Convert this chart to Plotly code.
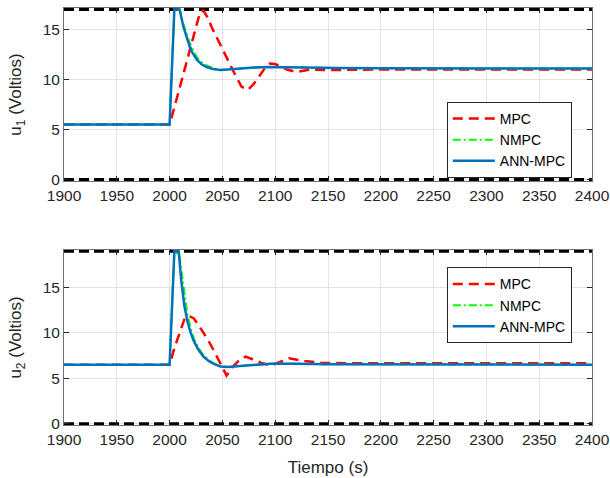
import plotly.graph_objects as go

# ---------------- data ----------------
x_ticks = [1900, 1950, 2000, 2050, 2100, 2150, 2200, 2250, 2300, 2350, 2400]
y_ticks = [0, 5, 10, 15]

limit_t = [1900, 2400]
u1_min = [0, 0]
u1_max = [17, 17]
u2_min = [0, 0]
u2_max = [19, 19]

# u1 - MPC
mpc1_t = [1900, 2000, 2005, 2010, 2015, 2020, 2025, 2029, 2032, 2036, 2040, 2045, 2049, 2053, 2057,
          2062, 2068, 2074, 2080, 2085, 2090, 2095, 2100, 2105, 2111, 2120, 2134, 2150, 2200, 2400]
mpc1_v = [5.5, 5.5, 7.4, 9.4, 11.3, 13.3, 15.3, 16.8, 16.9, 16.2, 15.2, 14.1, 13.2, 12.4, 11.6,
          10.5, 9.3, 8.95, 9.6, 10.4, 11.1, 11.6, 11.55, 11.3, 11.0, 10.75, 11.0, 10.95, 11.0, 11.0]

# u1 - NMPC
nmpc1_t = [1900, 2000, 2004.5, 2009.5, 2013, 2016, 2019, 2022, 2026, 2030, 2035, 2041, 2048, 2055,
           2065, 2080, 2095, 2110, 2130, 2160, 2200, 2300, 2400]
nmpc1_v = [5.5, 5.5, 17, 17, 15.6, 14.6, 13.7, 13.0, 12.2, 11.75, 11.4, 11.12, 10.98, 11.0,
           11.1, 11.2, 11.25, 11.22, 11.2, 11.15, 11.12, 11.1, 11.1]

# u1 - ANN-MPC
ann1_t = [1900, 2000, 2004.5, 2009.5, 2013, 2016, 2019, 2022, 2026, 2030, 2035, 2041, 2048, 2055,
          2065, 2080, 2095, 2110, 2130, 2160, 2200, 2300, 2400]
ann1_v = [5.5, 5.5, 17, 17, 15.3, 14.2, 13.3, 12.6, 11.95, 11.55, 11.25, 11.05, 10.95, 11.0,
          11.1, 11.2, 11.25, 11.22, 11.2, 11.15, 11.12, 11.1, 11.1]

# u2 - MPC
mpc2_t = [1900, 2000, 2005, 2010, 2014, 2018, 2023, 2030, 2037, 2043, 2050, 2054, 2060, 2066,
          2072, 2080, 2087, 2096, 2104, 2113, 2128, 2145, 2170, 2200, 2400]
mpc2_v = [6.5, 6.5, 8.5, 10.3, 11.5, 11.9, 11.6, 10.4, 9.1, 7.8, 6.3, 5.3, 6.3, 7.0,
          7.4, 7.0, 6.7, 6.4, 6.8, 7.2, 6.9, 6.7, 6.65, 6.65, 6.65]

# u2 - NMPC
nmpc2_t = [1900, 2000, 2004.5, 2009, 2011.5, 2014, 2017, 2020, 2023, 2027, 2032, 2037, 2042, 2048,
           2055, 2065, 2080, 2095, 2120, 2150, 2400]
nmpc2_v = [6.5, 6.5, 18.8, 18.8, 16.6, 14.2, 12.0, 10.5, 9.4, 8.4, 7.55, 7.0, 6.65, 6.35,
           6.25, 6.35, 6.5, 6.6, 6.6, 6.55, 6.5]

# u2 - ANN-MPC
ann2_t = [1900, 2000, 2004.5, 2008.6, 2011, 2014, 2017, 2020, 2023, 2027, 2032, 2037, 2042, 2048,
          2055, 2065, 2080, 2095, 2120, 2150, 2400]
ann2_v = [6.5, 6.5, 19, 19, 15.8, 13.0, 11.2, 10.0, 9.1, 8.2, 7.4, 6.9, 6.6, 6.3,
          6.25, 6.35, 6.5, 6.6, 6.6, 6.55, 6.5]

# ---------------- styles ----------------
FONT = "Liberation Sans, Arial, sans-serif"
TXT = "#262626"
RED = "#FF0000"
GREEN = "#00FF00"
BLUE = "#0072BD"

fig = go.Figure()


def add_panel(xa, ya, leg, tm, vm, tn, vn, ta, va, lo, hi):
    fig.add_trace(go.Scatter(x=limit_t, y=lo, mode="lines", xaxis=xa, yaxis=ya, showlegend=False,
                             line=dict(color="black", width=3, dash="10px,5px"), hoverinfo="skip"))
    fig.add_trace(go.Scatter(x=limit_t, y=hi, mode="lines", xaxis=xa, yaxis=ya, showlegend=False,
                             line=dict(color="black", width=3, dash="10px,5px"), hoverinfo="skip"))
    fig.add_trace(go.Scatter(x=tm, y=vm, mode="lines", name="MPC", xaxis=xa, yaxis=ya, legend=leg,
                             line=dict(color=RED, width=2.5, dash="10px,6px")))
    fig.add_trace(go.Scatter(x=tn, y=vn, mode="lines", name="NMPC", xaxis=xa, yaxis=ya, legend=leg,
                             line=dict(color=GREEN, width=2, dash="8px,3px,2px,3px")))
    fig.add_trace(go.Scatter(x=ta, y=va, mode="lines", name="ANN-MPC", xaxis=xa, yaxis=ya, legend=leg,
                             line=dict(color=BLUE, width=2.5)))


add_panel("x", "y", "legend", mpc1_t, mpc1_v, nmpc1_t, nmpc1_v, ann1_t, ann1_v, u1_min, u1_max)
add_panel("x2", "y2", "legend2", mpc2_t, mpc2_v, nmpc2_t, nmpc2_v, ann2_t, ann2_v, u2_min, u2_max)

axis_common = dict(
    showgrid=True, gridcolor="#e3e3e3", gridwidth=1,
    showline=True, linecolor="#707070", linewidth=1, mirror="ticks",
    ticks="inside", ticklen=5, tickcolor="#262626", tickwidth=1,
    zeroline=False, automargin=False,
    tickfont=dict(family=FONT, size=15.5, color=TXT),
)

legend_common = dict(
    xanchor="left", yanchor="top", bgcolor="white", bordercolor=TXT, borderwidth=1,
    font=dict(family=FONT, size=14, color="black"), itemwidth=42, tracegroupgap=0,
)

fig.update_layout(
    width=610, height=478,
    margin=dict(l=64, r=18, t=8, b=53, autoexpand=False),
    paper_bgcolor="white", plot_bgcolor="white",
    font=dict(family=FONT, color=TXT),
    xaxis=dict(domain=[0, 1], anchor="y", range=[1900, 2400], tickvals=x_ticks, **axis_common),
    yaxis=dict(domain=[0.585, 1], anchor="x", range=[-0.15, 17.15], tickvals=y_ticks,
               title=dict(text="u<sub>1</sub> (Voltios)", font=dict(family=FONT, size=17, color=TXT), standoff=16),
               **axis_common),
    xaxis2=dict(domain=[0, 1], anchor="y2", range=[1900, 2400], tickvals=x_ticks,
                title=dict(text="Tiempo (s)", font=dict(family=FONT, size=17, color=TXT), standoff=14),
                **axis_common),
    yaxis2=dict(domain=[0, 0.4197], anchor="x2", range=[-0.15, 19.15], tickvals=y_ticks,
                title=dict(text="u<sub>2</sub> (Voltios)", font=dict(family=FONT, size=17, color=TXT), standoff=16),
                **axis_common),
    legend=dict(x=0.725, y=0.775, **legend_common),
    legend2=dict(x=0.725, y=0.378, **legend_common),
)

fig.write_html("out.html", config={"displayModeBar": False},
               post_script="document.body.style.margin='0';")
